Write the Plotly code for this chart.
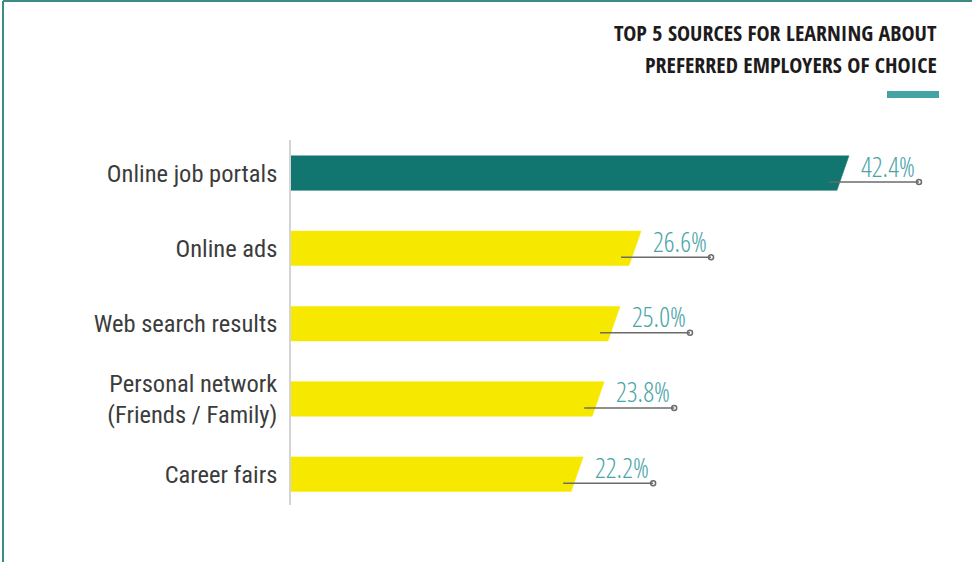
import plotly.graph_objects as go

# ---- data ----
categories = ["Online job portals", "Online ads", "Web search results",
              "Personal network<br>(Friends / Family)", "Career fairs"]
shares = [42.4, 26.6, 25.0, 23.8, 22.2]
highlight = [True, False, False, False, False]
value_labels = ["42.4%", "26.6%", "25.0%", "23.8%", "22.2%"]

# ---- layout constants (pixels) ----
W, H = 972, 562
ML, MR, MT, MB = 291, 24, 140, 57
PX_PER_UNIT = 13.16
X_MAX = (W - ML - MR) / PX_PER_UNIT
Y_TOP, Y_BOT = -0.44, 4.41
PX_PER_ROW = (H - MT - MB) / (Y_BOT - Y_TOP)

TEAL_DARK = "#127670"
YELLOW = "#f7e800"
TEAL_TEXT = "#4aa5a9"
GREY = "#6b6b6b"
LABEL_FONT = "Roboto Condensed, DejaVu Sans Condensed, sans-serif"
VALUE_FONT = "Open Sans Condensed Light, DejaVu Sans Condensed, sans-serif"
TITLE_FONT = "Noto Sans ExtraCondensed, Open Sans Condensed, DejaVu Sans Condensed"

BAR_H = 34.5 / PX_PER_ROW          # bar thickness in row units
SLANT = 12 / PX_PER_UNIT           # horizontal offset of the slanted end
LEAD_IN = 20 / PX_PER_UNIT         # leader line start inside bar
LEAD_OUT = 70 / PX_PER_UNIT        # leader line end beyond bar
LEAD_DY = 9 / PX_PER_ROW           # leader line below bar centre
TXT_DY = -7 / PX_PER_ROW           # value text above bar centre


def paper_x(px):
    return (px - ML) / (W - ML - MR)


def paper_y(py):
    return (H - MB - py) / (H - MT - MB)


fig = go.Figure()

# slanted bars drawn as filled polygons in data coordinates
for i, (v, hi) in enumerate(zip(shares, highlight)):
    top, bot = i - BAR_H / 2, i + BAR_H / 2
    col = TEAL_DARK if hi else YELLOW
    fig.add_trace(go.Scatter(
        x=[0, v, v - SLANT, 0, 0],
        y=[top, top, bot, bot, top],
        fill="toself", fillcolor=col, mode="lines",
        line=dict(color=col, width=0.5), hoverinfo="skip", showlegend=False))

# leader lines with open circle at the end
for i, v in enumerate(shares):
    yl = i + LEAD_DY
    fig.add_trace(go.Scatter(
        x=[v - LEAD_IN, v + LEAD_OUT], y=[yl, yl], mode="lines",
        line=dict(color=GREY, width=1.5), hoverinfo="skip", showlegend=False))
    fig.add_trace(go.Scatter(
        x=[v + LEAD_OUT], y=[yl], mode="markers",
        marker=dict(symbol="circle-open", size=5, color=GREY,
                    line=dict(color=GREY, width=1.5)),
        hoverinfo="skip", showlegend=False))
    fig.add_annotation(
        x=v + LEAD_OUT - 2 / PX_PER_UNIT, y=i + TXT_DY, xref="x", yref="y",
        text=value_labels[i], showarrow=False, xanchor="right", yanchor="middle",
        font=dict(family=VALUE_FONT, size=27, weight=300, color=TEAL_TEXT))

# title block
for line_text, py in [("TOP 5 SOURCES FOR LEARNING ABOUT", 32),
                      ("PREFERRED EMPLOYERS OF CHOICE", 64)]:
    fig.add_annotation(
        x=paper_x(939), y=paper_y(py), xref="paper", yref="paper",
        text="<b>" + line_text + "</b>", showarrow=False,
        xanchor="right", yanchor="middle",
        font=dict(family=TITLE_FONT, size=22, color="#1e1b1c"))

shapes = [
    # accent bar under the title
    dict(type="rect", xref="paper", yref="paper",
         x0=paper_x(887), x1=paper_x(939), y0=paper_y(98), y1=paper_y(91),
         fillcolor="#45a3a6", line=dict(width=0)),
    # frame lines along top and left edges
    dict(type="line", xref="paper", yref="paper",
         x0=paper_x(3), x1=paper_x(972), y0=paper_y(1), y1=paper_y(1),
         line=dict(color="#3d8a86", width=2)),
    dict(type="line", xref="paper", yref="paper",
         x0=paper_x(3), x1=paper_x(3), y0=paper_y(1), y1=paper_y(562),
         line=dict(color="#3d8a86", width=2)),
]

fig.update_layout(
    width=W, height=H, margin=dict(l=ML, r=MR, t=MT, b=MB),
    paper_bgcolor="white", plot_bgcolor="white", shapes=shapes,
    showlegend=False,
    xaxis=dict(range=[0, X_MAX], visible=False, fixedrange=True),
    yaxis=dict(range=[Y_BOT, Y_TOP], tickmode="array",
               tickvals=list(range(len(categories))), ticktext=categories,
               showgrid=False, zeroline=False, showline=True,
               linecolor="#d4d4d4", linewidth=1.5, ticks="", ticklabelstandoff=7,
               tickfont=dict(family=LABEL_FONT, size=24.5, color="#3c3c3c")),
)

fig.write_html("out.html")
